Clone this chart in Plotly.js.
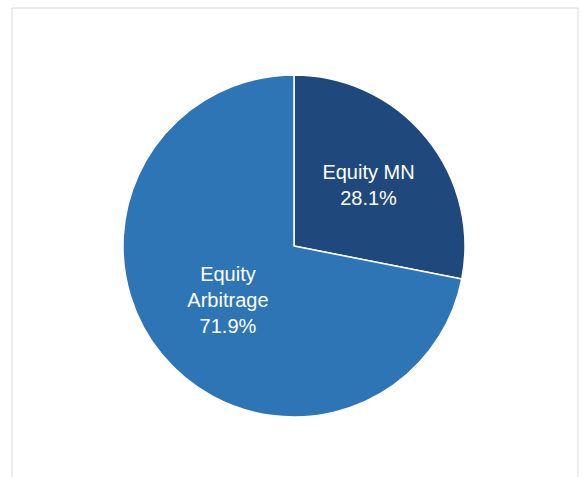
<!DOCTYPE html>
<html>
<head>
<meta charset="utf-8">
<script src="https://cdn.plot.ly/plotly-3.0.1.min.js"></script>
<style>html,body{margin:0;padding:0;background:#fff;}#chart{width:583px;height:477px;}</style>
</head>
<body>
<div id="chart"></div>
<script>
const categories = ["Equity MN", "Equity Arbitrage"];
const displayLabels = ["Equity MN", "Equity<br>Arbitrage"];
const shares = [28.1, 71.9];
const colors = ["#1F497D", "#2E75B6"];

const trace = {
  type: "pie",
  labels: categories,
  values: shares,
  text: displayLabels,
  texttemplate: "%{text}<br>%{percent:.1%}",
  textposition: "inside",
  insidetextorientation: "horizontal",
  sort: false,
  direction: "clockwise",
  rotation: 0,
  hole: 0,
  marker: {colors: colors, line: {color: "#ffffff", width: 1.5}},
  insidetextfont: {family: "Liberation Sans, Arial, sans-serif", size: 20, color: "#ffffff"},
  domain: {x: [123/583, 465/583], y: [1 - 417/477, 1 - 75/477]},
  showlegend: false,
  hoverinfo: "label+percent"
};

const layout = {
  width: 583, height: 477,
  margin: {l: 0, r: 0, t: 0, b: 0},
  paper_bgcolor: "#ffffff",
  showlegend: false,
  uniformtext: {minsize: 20, mode: "show"},
  shapes: [{
    type: "rect", xref: "paper", yref: "paper",
    x0: 12/583, x1: 578/583, y0: -0.1, y1: 1 - 8/477,
    line: {color: "#d9d9d9", width: 1}, fillcolor: "rgba(0,0,0,0)"
  }]
};

Plotly.newPlot("chart", [trace], layout, {displayModeBar: false, staticPlot: true});
</script>
</body>
</html>
